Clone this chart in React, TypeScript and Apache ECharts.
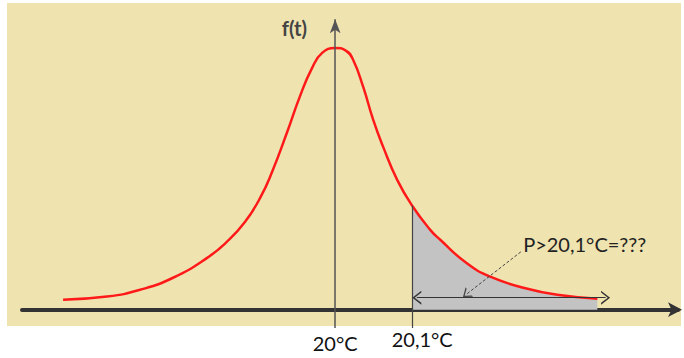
import React, { useEffect, useRef } from "react";
import * as echarts from "echarts";

// Temperature (°C) sampled along the red density curve
const temps = [19.6468, 19.7039, 19.7468, 19.7896, 19.8338, 19.8597, 19.8831, 19.9026, 19.9182, 19.9377, 19.9545, 19.9701, 19.9831, 20.0, 20.0143, 20.0234, 20.0364, 20.0494, 20.0623, 20.0805, 20.1, 20.1234, 20.1364, 20.1714, 20.2013, 20.2442, 20.2883, 20.3403];
// f(t), relative height (peak = 1)
const density = [0.038, 0.05, 0.076, 0.122, 0.198, 0.26, 0.336, 0.427, 0.527, 0.679, 0.817, 0.924, 0.981, 1.0, 0.989, 0.954, 0.851, 0.725, 0.622, 0.496, 0.397, 0.305, 0.267, 0.176, 0.126, 0.084, 0.057, 0.042];
// Tick labels
const tickValues = [20, 20.1];
const tickLabels = ["20°C", "20,1°C"];
const mean = 20;
const threshold = 20.1;
const questionText = "P>20,1°C=???";
const yAxisName = "f(t)";

const chevron = "path://M0,10 L5,0 L10,10 L8.6,10 L5,2.6 L1.4,10 Z";

export default function App() {
  const ref = useRef<HTMLDivElement>(null);
  useEffect(() => {
    if (!ref.current) return;
    const chart = echarts.init(ref.current, undefined, { renderer: "svg" });
    const curve = temps.map((t, i) => [t, density[i]]);
    const tail = curve.filter((p) => p[0] >= threshold - 1e-9);
    const thrVal = density[temps.indexOf(threshold)];
    const font = "Lato, 'Noto Sans', sans-serif";
    chart.setOption({
      animation: false,
      graphic: [
        {
          type: "rect",
          z: -10,
          silent: true,
          shape: { x: 7, y: 3, width: 674, height: 323 },
          style: { fill: "#efe3b0" },
        },
      ],
      grid: { left: 22, right: 6, top: 10, bottom: 30, containLabel: false, outerBoundsMode: "none" },
      xAxis: {
        type: "value",
        min: 19.5935,
        max: 20.445,
        splitLine: { show: false },
        axisTick: { show: false },
        axisLine: {
          show: true,
          onZero: true,
          symbol: ["none", "arrow"],
          symbolSize: [11, 14],
          symbolOffset: [0, 4],
          lineStyle: { color: "#333", width: 4 },
        },
        axisLabel: {
          customValues: tickValues,
          margin: 1,
          color: "#111",
          fontFamily: font,
          fontSize: 20,
          formatter: (v: number) => {
            const i = tickValues.findIndex((t) => Math.abs(t - v) < 1e-6);
            if (i < 0) return "";
            return i === 0 ? `{a|${tickLabels[i]}}` : `{b|${tickLabels[i]}}`;
          },
          rich: {
            a: { fontSize: 20, fontFamily: font, color: "#111", padding: [4, 0, 0, 0] },
            b: { fontSize: 20, fontFamily: font, color: "#111", padding: [0, 0, 0, 20] },
          },
        },
      },
      yAxis: {
        type: "value",
        min: -0.07,
        max: 1.145,
        axisLine: { show: false },
        axisTick: { show: false },
        axisLabel: { show: false },
        splitLine: { show: false },
      },
      series: [
        {
          type: "line",
          name: "tail",
          data: tail,
          smooth: 0.5,
          symbol: "none",
          lineStyle: { width: 0 },
          areaStyle: { color: "#c3c3c3", opacity: 1 },
          z: 2,
          silent: true,
        },
        {
          type: "line",
          name: "f(t)",
          data: curve,
          smooth: 0.5,
          symbol: "none",
          lineStyle: { color: "#ff1a1a", width: 2.5 },
          z: 4,
          silent: true,
          markLine: {
            silent: true,
            animation: false,
            label: { show: false },
            data: [
              [
                { coord: [mean, -0.07], symbol: "none", lineStyle: { color: "#555", width: 1.5, type: "solid" } },
                { coord: [mean, 1.11], symbol: "arrow", symbolSize: [8, 14] },
              ],
              [
                { coord: [threshold, thrVal], symbol: "none", lineStyle: { color: "#444", width: 1.2, type: "solid" } },
                { coord: [threshold, -0.07], symbol: "none" },
              ],
              [
                { coord: [20.106, 0.046], symbol: chevron, symbolSize: [14, 9], lineStyle: { color: "#333", width: 1.2, type: "solid" } },
                { coord: [20.351, 0.046], symbol: chevron, symbolSize: [14, 9] },
              ],
              [
                { coord: [20.241, 0.221], symbol: "none", lineStyle: { color: "#444", width: 1, type: [3, 2] } },
                { coord: [20.17, 0.058], symbol: chevron, symbolSize: [12, 8] },
              ],
            ],
          },
          markPoint: {
            silent: true,
            symbol: "circle",
            symbolSize: 0,
            data: [
              {
                name: questionText,
                coord: [20.244, 0.25],
                label: {
                  show: true,
                  position: "right",
                  distance: 0,
                  formatter: "{b}",
                  color: "#222",
                  fontFamily: font,
                  fontSize: 20,
                },
              },
              {
                name: yAxisName,
                coord: [19.947, 1.076],
                label: {
                  show: true,
                  position: "inside",
                  formatter: "{b}",
                  color: "#444",
                  fontFamily: font,
                  fontWeight: "bold",
                  fontSize: 20,
                },
              },
            ],
          },
        },
      ],
    });
    return () => chart.dispose();
  }, []);
  return (
    <div
      ref={ref}
      style={{ position: "fixed", left: 0, top: 0, width: 684, height: 358, background: "#fff" }}
    />
  );
}
